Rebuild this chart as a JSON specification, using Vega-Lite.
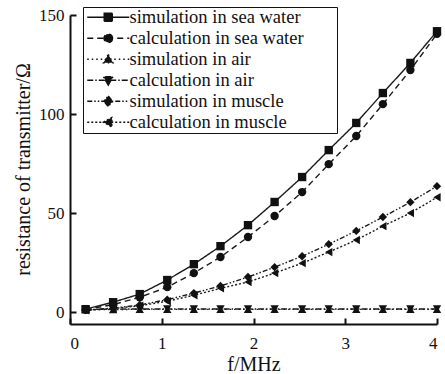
{
  "$schema": "https://vega.github.io/schema/vega-lite/v6.json",
  "width": 367,
  "height": 309,
  "autosize": {"type": "none"},
  "padding": {"left": 70, "top": 15, "right": 8, "bottom": 50},
  "background": "white",
  "config": {
    "view": {"stroke": null},
    "font": "Liberation Serif",
    "axis": {
      "grid": false,
      "domainColor": "#111",
      "domainWidth": 2,
      "tickColor": "#111",
      "tickWidth": 2,
      "tickSize": -6,
      "labelFont": "Liberation Serif",
      "labelFontSize": 17,
      "labelColor": "#111",
      "titleFont": "Liberation Serif",
      "titleFontSize": 20,
      "titleFontWeight": "normal",
      "titleColor": "#111"
    }
  },
  "data": {
    "values": [
      {"f": 0.17, "R": 1.5, "series": "simulation in sea water"},
      {"f": 0.47, "R": 5.0, "series": "simulation in sea water"},
      {"f": 0.76, "R": 9.1, "series": "simulation in sea water"},
      {"f": 1.06, "R": 16.2, "series": "simulation in sea water"},
      {"f": 1.35, "R": 24.2, "series": "simulation in sea water"},
      {"f": 1.64, "R": 33.3, "series": "simulation in sea water"},
      {"f": 1.94, "R": 43.9, "series": "simulation in sea water"},
      {"f": 2.23, "R": 55.6, "series": "simulation in sea water"},
      {"f": 2.53, "R": 68.2, "series": "simulation in sea water"},
      {"f": 2.82, "R": 81.8, "series": "simulation in sea water"},
      {"f": 3.12, "R": 95.5, "series": "simulation in sea water"},
      {"f": 3.41, "R": 110.6, "series": "simulation in sea water"},
      {"f": 3.71, "R": 125.8, "series": "simulation in sea water"},
      {"f": 4.0, "R": 141.8, "series": "simulation in sea water"},
      {"f": 0.17, "R": 1.2, "series": "calculation in sea water"},
      {"f": 0.47, "R": 3.8, "series": "calculation in sea water"},
      {"f": 0.76, "R": 7.5, "series": "calculation in sea water"},
      {"f": 1.06, "R": 12.6, "series": "calculation in sea water"},
      {"f": 1.35, "R": 19.7, "series": "calculation in sea water"},
      {"f": 1.64, "R": 27.8, "series": "calculation in sea water"},
      {"f": 1.94, "R": 37.9, "series": "calculation in sea water"},
      {"f": 2.23, "R": 48.5, "series": "calculation in sea water"},
      {"f": 2.53, "R": 60.6, "series": "calculation in sea water"},
      {"f": 2.82, "R": 74.7, "series": "calculation in sea water"},
      {"f": 3.12, "R": 88.9, "series": "calculation in sea water"},
      {"f": 3.41, "R": 105.0, "series": "calculation in sea water"},
      {"f": 3.71, "R": 122.2, "series": "calculation in sea water"},
      {"f": 4.0, "R": 140.5, "series": "calculation in sea water"},
      {"f": 0.17, "R": 1.2, "series": "simulation in air"},
      {"f": 0.47, "R": 1.3, "series": "simulation in air"},
      {"f": 0.76, "R": 1.4, "series": "simulation in air"},
      {"f": 1.06, "R": 1.4, "series": "simulation in air"},
      {"f": 1.35, "R": 1.4, "series": "simulation in air"},
      {"f": 1.64, "R": 1.4, "series": "simulation in air"},
      {"f": 1.94, "R": 1.4, "series": "simulation in air"},
      {"f": 2.23, "R": 1.4, "series": "simulation in air"},
      {"f": 2.53, "R": 1.4, "series": "simulation in air"},
      {"f": 2.82, "R": 1.4, "series": "simulation in air"},
      {"f": 3.12, "R": 1.4, "series": "simulation in air"},
      {"f": 3.41, "R": 1.4, "series": "simulation in air"},
      {"f": 3.71, "R": 1.4, "series": "simulation in air"},
      {"f": 4.0, "R": 1.4, "series": "simulation in air"},
      {"f": 0.17, "R": 1.3, "series": "calculation in air"},
      {"f": 0.47, "R": 1.5, "series": "calculation in air"},
      {"f": 0.76, "R": 1.6, "series": "calculation in air"},
      {"f": 1.06, "R": 1.6, "series": "calculation in air"},
      {"f": 1.35, "R": 1.6, "series": "calculation in air"},
      {"f": 1.64, "R": 1.6, "series": "calculation in air"},
      {"f": 1.94, "R": 1.6, "series": "calculation in air"},
      {"f": 2.23, "R": 1.6, "series": "calculation in air"},
      {"f": 2.53, "R": 1.6, "series": "calculation in air"},
      {"f": 2.82, "R": 1.6, "series": "calculation in air"},
      {"f": 3.12, "R": 1.6, "series": "calculation in air"},
      {"f": 3.41, "R": 1.6, "series": "calculation in air"},
      {"f": 3.71, "R": 1.6, "series": "calculation in air"},
      {"f": 4.0, "R": 1.6, "series": "calculation in air"},
      {"f": 0.17, "R": 1.0, "series": "simulation in muscle"},
      {"f": 0.47, "R": 2.0, "series": "simulation in muscle"},
      {"f": 0.76, "R": 3.6, "series": "simulation in muscle"},
      {"f": 1.06, "R": 6.3, "series": "simulation in muscle"},
      {"f": 1.35, "R": 9.6, "series": "simulation in muscle"},
      {"f": 1.64, "R": 13.2, "series": "simulation in muscle"},
      {"f": 1.94, "R": 17.7, "series": "simulation in muscle"},
      {"f": 2.23, "R": 22.7, "series": "simulation in muscle"},
      {"f": 2.53, "R": 28.2, "series": "simulation in muscle"},
      {"f": 2.82, "R": 34.3, "series": "simulation in muscle"},
      {"f": 3.12, "R": 41.0, "series": "simulation in muscle"},
      {"f": 3.41, "R": 48.0, "series": "simulation in muscle"},
      {"f": 3.71, "R": 55.5, "series": "simulation in muscle"},
      {"f": 4.0, "R": 63.6, "series": "simulation in muscle"},
      {"f": 0.17, "R": 0.9, "series": "calculation in muscle"},
      {"f": 0.47, "R": 1.8, "series": "calculation in muscle"},
      {"f": 0.76, "R": 3.2, "series": "calculation in muscle"},
      {"f": 1.06, "R": 5.5, "series": "calculation in muscle"},
      {"f": 1.35, "R": 8.5, "series": "calculation in muscle"},
      {"f": 1.64, "R": 12.0, "series": "calculation in muscle"},
      {"f": 1.94, "R": 15.2, "series": "calculation in muscle"},
      {"f": 2.23, "R": 19.7, "series": "calculation in muscle"},
      {"f": 2.53, "R": 24.7, "series": "calculation in muscle"},
      {"f": 2.82, "R": 30.3, "series": "calculation in muscle"},
      {"f": 3.12, "R": 36.4, "series": "calculation in muscle"},
      {"f": 3.41, "R": 43.4, "series": "calculation in muscle"},
      {"f": 3.71, "R": 50.0, "series": "calculation in muscle"},
      {"f": 4.0, "R": 58.0, "series": "calculation in muscle"}
    ]
  },
  "encoding": {
    "x": {
      "field": "f",
      "type": "quantitative",
      "scale": {"domain": [0, 4], "nice": false, "zero": false},
      "axis": {"values": [0, 1, 2, 3, 4], "format": "d", "title": "f/MHz", "labelPadding": 17, "titlePadding": 3}
    },
    "y": {
      "field": "R",
      "type": "quantitative",
      "scale": {"domain": [-6, 150], "nice": false, "zero": false},
      "axis": {"values": [0, 50, 100, 150], "title": "resistance of transmitter/Ω", "labelPadding": 12, "titleY": 154, "titlePadding": 5}
    }
  },
  "layer": [
    {
      "mark": {"type": "line", "color": "#1a1a1a", "strokeWidth": 1.4},
      "encoding": {
        "strokeDash": {
          "field": "series",
          "type": "nominal",
          "scale": {
            "domain": ["simulation in sea water", "calculation in sea water", "simulation in air", "calculation in air", "simulation in muscle", "calculation in muscle"],
            "range": [[1, 0], [6, 4], [1.5, 3], [6, 2, 1.5, 2], [5, 2, 1.5, 2, 1.5, 2], [2, 2]]
          },
          "legend": {
            "title": "MM",
            "titleOrient": "right",
            "titleFontSize": 14,
            "titleOpacity": 0,
            "titlePadding": 5,
            "orient": "none",
            "legendX": 13,
            "legendY": -8,
            "padding": 1,
            "strokeColor": "#111",
            "fillColor": "white",
            "cornerRadius": 0,
            "labelFont": "Liberation Serif",
            "labelFontSize": 18.5,
            "labelColor": "#111",
            "labelLimit": 400,
            "symbolSize": 64,
            "symbolOffset": 15,
            "labelOffset": 12,
            "rowPadding": 2,
            "symbolFillColor": "#111",
            "symbolStrokeColor": "#111",
            "symbolStrokeWidth": 1.5,
            "symbolType": {"expr": "datum.value === 'simulation in sea water' ? 'M-5.25,0H5.25M-1,-1H1V1H-1Z' : datum.value === 'calculation in sea water' ? 'M-5.25,0H5.25M1.05,0A1.05,1.05,0,1,1,-1.05,0A1.05,1.05,0,1,1,1.05,0Z' : datum.value === 'simulation in air' ? 'M-5.25,0H5.25M0,-1.2L1.2,0.9H-1.2Z' : datum.value === 'calculation in air' ? 'M-5.25,0H5.25M0,1.2L1.2,-0.9H-1.2Z' : datum.value === 'simulation in muscle' ? 'M-5.25,0H5.25M0,-1.3L1.1,0L0,1.3L-1.1,0Z' : 'M-5.25,0H5.25M-1.2,0L0.9,-1.2V1.2Z'"}
          }
        }
      }
    },
    {
      "mark": {"type": "point", "filled": true, "color": "#111", "opacity": 1, "size": 70},
      "encoding": {
        "shape": {
          "field": "series",
          "type": "nominal",
          "scale": {
            "domain": ["calculation in muscle", "simulation in muscle", "calculation in air", "simulation in air", "calculation in sea water", "simulation in sea water"],
            "range": ["triangle-left", "diamond", "triangle-down", "triangle-up", "circle", "square"]
          },
          "legend": null
        }
      }
    }
  ]
}
